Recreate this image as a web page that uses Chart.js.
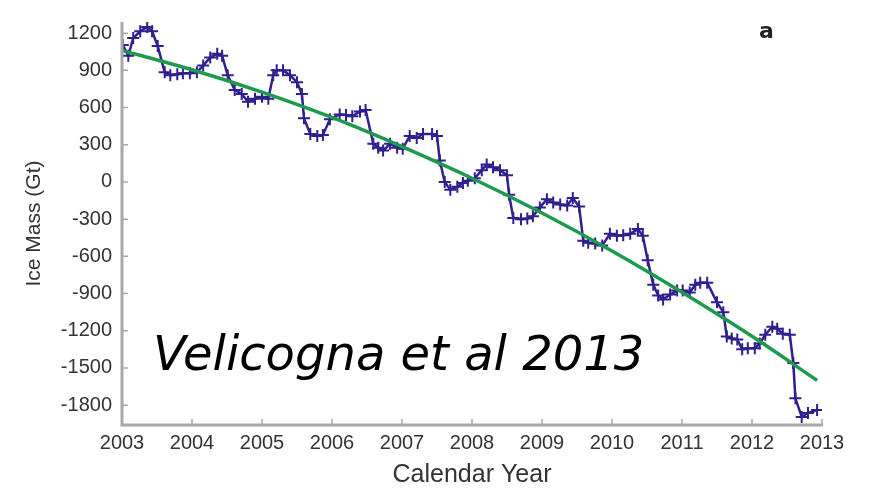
<!DOCTYPE html>
<html>
<head>
<meta charset="utf-8">
<script src="https://cdn.jsdelivr.net/npm/chart.js@4"></script>
<style>
  html, body { margin: 0; padding: 0; background: #fff; }
  #wrap { position: relative; width: 871px; height: 490px; }
</style>
</head>
<body>
<div id="wrap"><canvas id="myChart" width="871" height="490"></canvas></div>
<script>
// ice mass (Gt) vs calendar year
var years = [
  2003.01, 2003.09, 2003.16, 2003.26, 2003.36, 2003.43, 2003.51, 2003.61, 2003.69, 2003.79, 2003.87, 2003.97,
  2004.07, 2004.16, 2004.26, 2004.36, 2004.43, 2004.51, 2004.61, 2004.71, 2004.8, 2004.9, 2005.0,
  2005.09, 2005.16, 2005.21, 2005.3, 2005.4, 2005.5, 2005.57, 2005.6, 2005.69, 2005.79, 2005.87, 2005.97,
  2006.11, 2006.2, 2006.29, 2006.4, 2006.48, 2006.59, 2006.66, 2006.73, 2006.83, 2006.93,
  2007.01, 2007.11, 2007.21, 2007.3, 2007.43, 2007.5, 2007.54, 2007.61, 2007.69, 2007.79, 2007.87, 2007.94,
  2008.04, 2008.14, 2008.21, 2008.3, 2008.4, 2008.5, 2008.53, 2008.59, 2008.7, 2008.79, 2008.87, 2008.97,
  2009.07, 2009.16, 2009.26, 2009.36, 2009.44, 2009.53, 2009.59, 2009.66, 2009.76, 2009.86, 2009.97,
  2010.07, 2010.16, 2010.26, 2010.37, 2010.44, 2010.51, 2010.59, 2010.66, 2010.73, 2010.83, 2010.93,
  2011.01, 2011.11, 2011.19, 2011.26, 2011.36, 2011.5, 2011.59, 2011.64, 2011.71, 2011.79, 2011.86, 2011.94,
  2012.04, 2012.11, 2012.19, 2012.29, 2012.36, 2012.44, 2012.54, 2012.59, 2012.62, 2012.71, 2012.8, 2012.93
];
var mass = [
  1105, 1018, 1160, 1215, 1250, 1215, 1097, 884, 860, 868, 876, 876,
  884, 940, 1003, 1034, 1018, 860, 742, 710, 647, 671, 687,
  671, 860, 900, 900, 860, 805, 710, 513, 387, 371, 379, 505,
  545, 540, 530, 568, 580, 308, 276, 253, 308, 276,
  268, 371, 355, 387, 387, 371, 174, 0, -63, -39, -8, 10,
  30, 95, 140, 118, 95, 55, -103, -290, -300, -295, -276, -205,
  -140, -166, -182, -190, -130, -197, -474, -490, -497, -513, -418,
  -434, -430, -418, -380, -434, -632, -829, -916, -947, -908, -876,
  -876, -892, -829, -813, -813, -971, -1050, -1247, -1263, -1271, -1350, -1342,
  -1342, -1303, -1232, -1168, -1184, -1224, -1232, -1461, -1745, -1895, -1863, -1840
];

// green fitted trend, read at a few points
var trendYears = [2003, 2004, 2005, 2006, 2007, 2008, 2009, 2010, 2011, 2012, 2012.93];
var trendMass = [1060, 905, 725, 520, 285, 30, -250, -557, -890, -1245, -1600];

var xTicks = [2003, 2004, 2005, 2006, 2007, 2008, 2009, 2010, 2011, 2012, 2013];
var yTicks = [-1800, -1500, -1200, -900, -600, -300, 0, 300, 600, 900, 1200];

var obs = years.map(function (y, i) { return { x: y, y: mass[i] } });
var trend = trendYears.map(function (y, i) { return { x: y, y: trendMass[i] } });

// matlab style axes: gray L-shaped box, ticks pointing inward
var innerTicks = {
  id: 'innerTicks',
  afterDatasetsDraw: function (chart) {
    var ctx = chart.ctx, a = chart.chartArea;
    var xs = chart.scales.x, ys = chart.scales.y;
    ctx.save();
    ctx.strokeStyle = '#a8a8a8';
    ctx.lineWidth = 1.5;
    ctx.beginPath();
    xTicks.forEach(function (t) {
      var px = xs.getPixelForValue(t);
      ctx.moveTo(px, a.bottom);
      ctx.lineTo(px, a.bottom - 6);
    });
    yTicks.forEach(function (t) {
      var py = ys.getPixelForValue(t);
      ctx.moveTo(a.left, py);
      ctx.lineTo(a.left + 6, py);
    });
    ctx.stroke();
    ctx.lineWidth = 3;
    ctx.beginPath();
    ctx.moveTo(a.left, a.top);
    ctx.lineTo(a.left, a.bottom);
    ctx.lineTo(a.right + 1, a.bottom);
    ctx.stroke();

    ctx.fillStyle = '#000';
    ctx.font = 'italic 48px "DejaVu Sans"';
    ctx.textBaseline = 'alphabetic';
    ctx.fillText('Velicogna et al 2013', 153, 370);
    ctx.fillStyle = '#222';
    ctx.font = 'bold 22px "DejaVu Sans"';
    ctx.fillText('a', 759, 38);
    ctx.restore();
  }
};

var ctx = document.getElementById('myChart').getContext('2d');
var myChart = new Chart(ctx, {
  type: 'line',
  data: {
    datasets: [{
      data: obs,
      borderColor: '#2f1f8f',
      backgroundColor: '#2f1f8f',
      borderWidth: 2.5,
      pointStyle: 'cross',
      pointRadius: 6,
      pointBorderWidth: 2,
      tension: 0,
      order: 2
    }, {
      data: trend,
      borderColor: '#1d9a4c',
      borderWidth: 3.5,
      pointRadius: 0,
      cubicInterpolationMode: 'monotone',
      order: 1
    }]
  },
  options: {
    responsive: false,
    animation: false,
    layout: { padding: { top: 14, right: 49, left: 22, bottom: 0 } },
    plugins: { legend: { display: false }, tooltip: { enabled: false } },
    scales: {
      x: {
        type: 'linear',
        min: 2003, max: 2013,
        afterBuildTicks: function (s) { s.ticks = xTicks.map(function (v) { return { value: v } }) },
        afterFit: function (s) { s.height = 65 },
        grid: { display: false, drawTicks: false },
        border: { display: false },
        ticks: {
          color: '#333',
          font: { family: 'Liberation Sans', size: 20 },
          padding: 6,
          maxRotation: 0,
          callback: function (v) { return String(v) }
        },
        title: {
          display: true,
          text: 'Calendar Year',
          color: '#333',
          font: { family: 'Liberation Sans', size: 25 },
          padding: { top: 2, bottom: 0 }
        }
      },
      y: {
        min: -1960, max: 1290,
        afterBuildTicks: function (s) { s.ticks = yTicks.map(function (v) { return { value: v } }) },
        afterFit: function (s) { s.width = 100 },
        grid: { display: false, drawTicks: false },
        border: { display: false },
        ticks: {
          color: '#333',
          font: { family: 'Liberation Sans', size: 20 },
          padding: 10,
          callback: function (v) { return String(v) }
        },
        title: {
          display: true,
          text: 'Ice Mass (Gt)',
          color: '#333',
          font: { family: 'Liberation Sans', size: 21 },
          padding: { top: 0, bottom: 4 }
        }
      }
    }
  },
  plugins: [innerTicks]
});
</script>
</body>
</html>
